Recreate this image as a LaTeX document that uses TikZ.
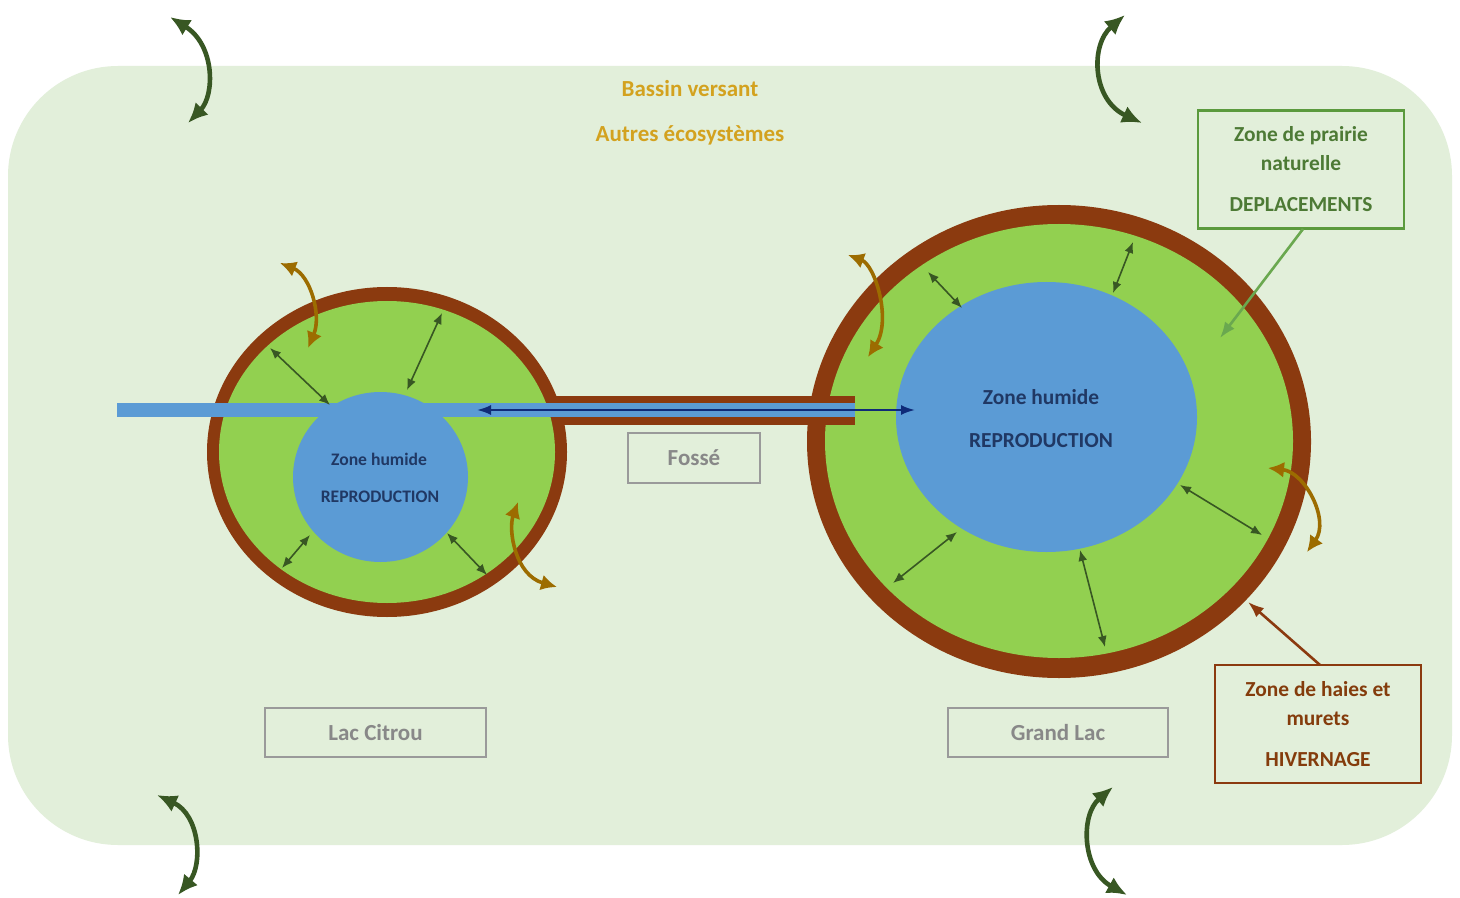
\documentclass[tikz,border=0pt]{standalone}
\usepackage{fontspec}
\setmainfont{Carlito}
\usetikzlibrary{arrows.meta}
\definecolor{bgc}{HTML}{E2EFDA}
\definecolor{brownc}{HTML}{8B3A0F}
\definecolor{grassc}{HTML}{92D050}
\definecolor{bluec}{HTML}{5B9BD5}
\definecolor{bluetxt}{HTML}{203864}
\definecolor{navyc}{HTML}{0F2A78}
\definecolor{goldtxt}{HTML}{D3A21F}
\definecolor{goldarr}{HTML}{9C6C00}
\definecolor{dgreen}{HTML}{385723}
\definecolor{prairiec}{HTML}{5B9A3D}
\definecolor{prairietxt}{HTML}{4D7A35}
\definecolor{pointgreen}{HTML}{6AA84F}
\definecolor{haiestxt}{HTML}{843C0C}
\definecolor{grayc}{HTML}{9A9A9A}
\definecolor{graytxt}{HTML}{888888}
\tikzset{
  bigarr/.style={draw=dgreen, line width=2.3pt, {Latex[length=10pt,width=9pt]}-{Latex[length=10pt,width=9pt]}},
  goldarrow/.style={draw=goldarr, line width=1.8pt, {Latex[length=8pt,width=8pt]}-{Latex[length=8pt,width=8pt]}},
  smallarr/.style={draw=dgreen, line width=0.8pt, {Latex[length=5.5pt,width=4.5pt]}-{Latex[length=5.5pt,width=4.5pt]}},
  graybox/.style={draw=grayc, line width=1pt, inner sep=0pt, text=graytxt, font=\fontsize{11.5}{13}\selectfont\bfseries},
  zonetxt/.style={text=bluetxt, font=\fontsize{10.7}{12}\selectfont\bfseries},
  zonetxtsmall/.style={text=bluetxt, font=\fontsize{8.8}{10}\selectfont\bfseries},
  titletxt/.style={text=goldtxt, font=\fontsize{11.5}{13}\selectfont\bfseries},
  legendbox/.style={line width=1.2pt, inner sep=0pt, minimum width=103pt, minimum height=59pt, align=center, font=\fontsize{10.7}{14.5}\selectfont\bfseries}
}
\begin{document}
\begin{tikzpicture}[x=0.5pt,y=-0.5pt]
\useasboundingbox (0,0) rectangle (1460,898);
\fill[white] (0,0) rectangle (1460,898);
\fill[bgc, rounded corners=55pt] (8,66) rectangle (1452,845);

% titles
\node[titletxt] (bassin) at (690,89) {Bassin versant};
\node[titletxt] (autres) at (690,135) {Autres écosystèmes};

% right lake
\fill[brownc] (1059,441.5) ellipse [x radius=126pt, y radius=118.25pt];
\fill[grassc] (1059,441) ellipse [x radius=117pt, y radius=108.5pt];

% ditch band
\fill[brownc] (540,396) rectangle (855,425);

% left lake
\fill[brownc] (387,452) ellipse [x radius=90pt, y radius=82.5pt];
\fill[grassc] (387,452) ellipse [x radius=84pt, y radius=75.5pt];

% water channel
\fill[bluec] (117,403) rectangle (855,417);

% wet zones
\fill[bluec] (380.5,477) ellipse [x radius=43.75pt, y radius=42.5pt];
\fill[bluec] (1046.5,417) ellipse [x radius=75.25pt, y radius=67.5pt];

\node[zonetxtsmall] (zhl) at (379,459) {Zone humide};
\node[zonetxtsmall] (rpl) at (380,497) {REPRODUCTION};
\node[zonetxt] (zhr) at (1041,397) {Zone humide};
\node[zonetxt] (rpr) at (1041,441) {REPRODUCTION};

% navy arrow through ditch
\coordinate (navyL) at (477,410);
\coordinate (navyR) at (915,410);
\draw[draw=navyc, line width=1pt, {Latex[length=7pt,width=5pt]}-{Latex[length=7pt,width=5pt]}] (navyL) -- (navyR);

% label boxes
\node[graybox, minimum width=66pt, minimum height=25pt] (fosse) at (694,458) {Fossé};
\node[graybox, minimum width=110.5pt, minimum height=24.5pt] (citrou) at (375.5,732.5) {Lac Citrou};
\node[graybox, minimum width=110pt, minimum height=24.5pt] (grand) at (1058,732.5) {Grand Lac};

\node[legendbox, draw=prairiec, text=prairietxt] (prairie) at (1301,169.5) {Zone de prairie\\naturelle\\[6pt]DEPLACEMENTS};
\node[legendbox, draw=brownc, text=haiestxt] (haies) at (1318,724) {Zone de haies et\\murets\\[6pt]HIVERNAGE};

\coordinate (prairieTip) at (1220,338);
\coordinate (haiesTip) at (1248,602);
\draw[draw=pointgreen, line width=1.3pt, -{Latex[length=8pt,width=6pt]}] (1303,229) -- (prairieTip);
\draw[draw=brownc, line width=1.3pt, -{Latex[length=8pt,width=6pt]}] (1320,665) -- (haiesTip);

% small double arrows, left lake
\draw[smallarr] (270,348) -- (330,405);
\draw[smallarr] (442,313) -- (407,390);
\draw[smallarr] (310,535) -- (282,568);
\draw[smallarr] (447,533) -- (487,575);
% small double arrows, right lake
\draw[smallarr] (928,272) -- (962,308);
\draw[smallarr] (1133,242) -- (1113,293);
\draw[smallarr] (1180,485) -- (1262,535);
\draw[smallarr] (957,532) -- (893,583);
\draw[smallarr] (1080,550) -- (1105,647);

% gold curved arrows
\draw[goldarrow] (280,263) .. controls (310,275) and (322,315) .. (308,348);
\draw[goldarrow] (518,502) .. controls (508,530) and (515,575) .. (557,587);
\draw[goldarrow] (848,255) .. controls (875,265) and (892,320) .. (868,357);
\draw[goldarrow] (1268,468) .. controls (1305,472) and (1330,520) .. (1307,552);

% big green curved arrows
\draw[bigarr] (170,17) .. controls (215,45) and (215,95) .. (188,123);
\draw[bigarr] (1125,15) .. controls (1090,45) and (1092,100) .. (1142,123);
\draw[bigarr] (157,795) .. controls (200,815) and (203,865) .. (178,895);
\draw[bigarr] (1113,787) .. controls (1080,815) and (1082,870) .. (1127,895);
\end{tikzpicture}
\end{document}
